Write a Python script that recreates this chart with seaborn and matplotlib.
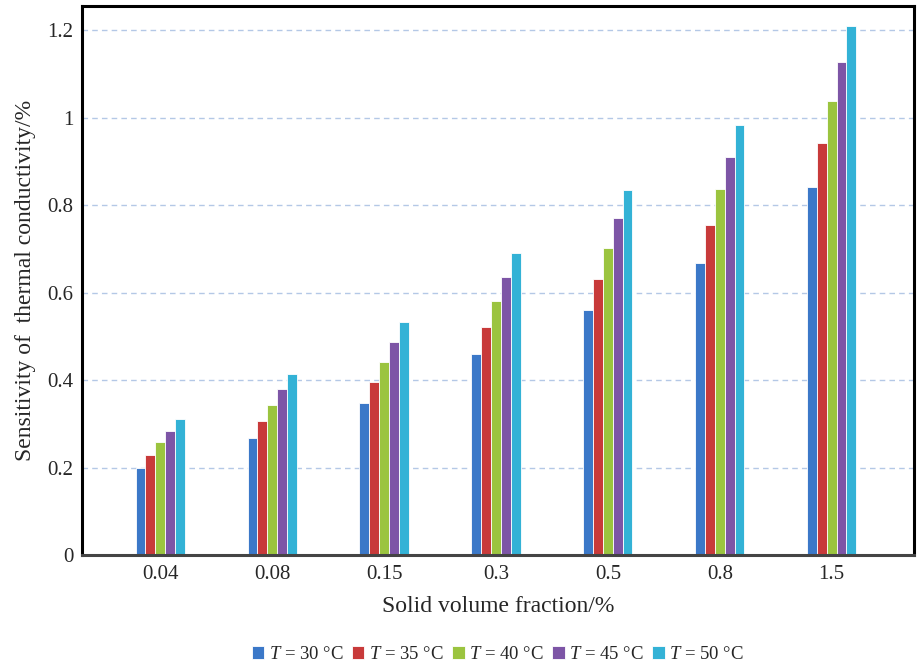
import pandas as pd
import numpy as np
import matplotlib
matplotlib.use("Agg")
import matplotlib.pyplot as plt
import seaborn as sns

# --------------------------------------------------------------
# Data
# --------------------------------------------------------------

fractions = ["0.04", "0.08", "0.15", "0.3", "0.5", "0.8", "1.5"]
temp_labels = ["$T$ = 30 °C", "$T$ = 35 °C", "$T$ = 40 °C", "$T$ = 45 °C", "$T$ = 50 °C"]

t30 = [0.199, 0.267, 0.347, 0.459, 0.560, 0.667, 0.841]
t35 = [0.229, 0.306, 0.395, 0.521, 0.631, 0.754, 0.942]
t40 = [0.258, 0.343, 0.441, 0.581, 0.702, 0.837, 1.038]
t45 = [0.283, 0.379, 0.487, 0.635, 0.770, 0.910, 1.127]
t50 = [0.311, 0.414, 0.533, 0.690, 0.834, 0.983, 1.209]

colors = ["#3b78c8", "#c83a3a", "#9bc43f", "#7d55a6", "#33b2d6"]

rows = []
for label, series in zip(temp_labels, [t30, t35, t40, t45, t50]):
    for frac, val in zip(fractions, series):
        rows.append({"fraction": frac, "T": label, "value": val})
df = pd.DataFrame(rows)

# --------------------------------------------------------------
# Plot
# --------------------------------------------------------------

sns.set_style("white")
plt.rcParams["font.family"] = ["Liberation Serif", "DejaVu Serif"]
plt.rcParams["mathtext.fontset"] = "custom"
plt.rcParams["mathtext.it"] = "Liberation Serif:italic"
plt.rcParams["mathtext.rm"] = "Liberation Serif"

fig = plt.figure(figsize=(9.2, 6.65), dpi=100)
ax = fig.add_axes([0.089, 0.165, 0.905, 0.826])

sns.barplot(data=df, x="fraction", y="value", hue="T", order=fractions,
            hue_order=temp_labels, palette=colors, width=0.44,
            edgecolor="white", linewidth=0.6, saturation=1, ax=ax)

ax.set_ylim(0, 1.255)
ax.set_yticks([0, 0.2, 0.4, 0.6, 0.8, 1.0, 1.2])
ax.set_yticklabels(["0", "0.2", "0.4", "0.6", "0.8", "1", "1.2"])
ax.set_xlim(-0.7, 6.74)

ax.yaxis.grid(True, linestyle=(0, (4, 3)), color="#b4c8e6", linewidth=1)
ax.set_axisbelow(True)

for side in ["left", "top", "right"]:
    ax.spines[side].set_color("black")
    ax.spines[side].set_linewidth(2.2)
ax.spines["bottom"].set_color("#444444")
ax.spines["bottom"].set_linewidth(2.2)

ax.tick_params(axis="y", labelsize=15, length=0, pad=6)
ax.tick_params(axis="x", labelsize=15, length=0, pad=7)
ax.set_xlabel("Solid volume fraction/%", fontsize=17, labelpad=9)
ax.set_ylabel("Sensitivity of  thermal conductivity/%", fontsize=17, labelpad=8)

ax.legend(loc="upper center", bbox_to_anchor=(0.5, -0.135), ncol=5,
          frameon=False, fontsize=13.5, handlelength=0.65, handleheight=0.65,
          handletextpad=0.25, columnspacing=0.45)

plt.savefig("out.png", dpi=100)
